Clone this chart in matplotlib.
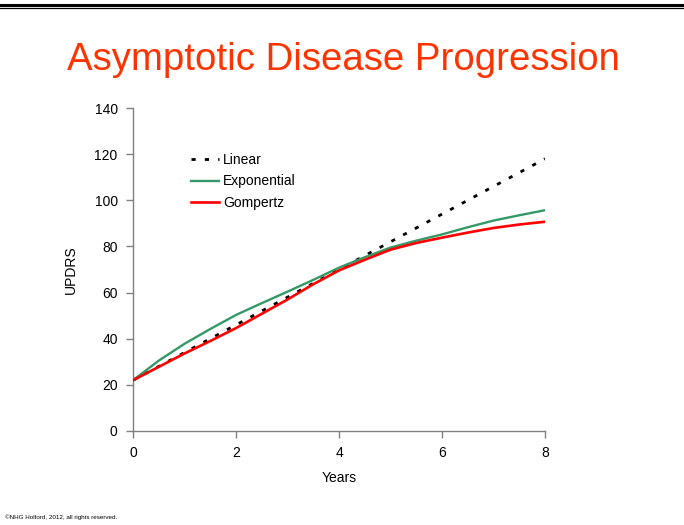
import matplotlib
matplotlib.use("Agg")
import matplotlib.pyplot as plt
from matplotlib.lines import Line2D

plt.rcParams['font.family'] = ['Liberation Sans', 'DejaVu Sans']

# Data
years = [0, 0.5, 1, 1.5, 2, 2.5, 3, 3.5, 4, 4.5, 5, 5.5, 6, 6.5, 7, 7.5, 8]
linear_years = [0, 8]
linear_vals = [22, 118]
exponential_vals = [22, 30.5, 37.8, 44.2, 50.3, 55.4, 60.4, 65.5, 70.8, 75.3,
                    79.5, 82.5, 85.2, 88.3, 91.2, 93.5, 95.7]
gompertz_vals = [22, 27.8, 33.6, 39.0, 44.6, 50.8, 57.0, 63.6, 69.6, 74.2,
                 78.6, 81.5, 83.8, 86.0, 88.0, 89.5, 90.7]
xticks = [0, 2, 4, 6, 8]
yticks = [0, 20, 40, 60, 80, 100, 120, 140]

fig = plt.figure(figsize=(6.84, 5.25), dpi=100)
ax = fig.add_axes([133/684, 1-431/525, (545-133)/684, (431-108)/525])

ax.plot(linear_years, linear_vals, color='black', lw=2.0,
        linestyle=(0, (1.5, 3.3)), label='Linear', zorder=2)
ax.plot(years, exponential_vals, color='#339966', lw=1.7, label='Exponential', zorder=3)
ax.plot(years, gompertz_vals, color='#FF0000', lw=1.9, label='Gompertz', zorder=4)

ax.set_xlim(0, 8)
ax.set_ylim(0, 140)
ax.set_xticks(xticks)
ax.set_yticks(yticks)
for s in ['top', 'right']:
    ax.spines[s].set_visible(False)
for s in ['left', 'bottom']:
    ax.spines[s].set_color('#808080')
    ax.spines[s].set_linewidth(1.0)
ax.tick_params(direction='out', length=5, color='#808080', width=1.0,
               labelsize=10, labelcolor='black', pad=6)
ax.set_xlabel('Years', fontsize=10, labelpad=8)
ax.set_ylabel('UPDRS', fontsize=10, labelpad=12)

ax.legend(loc='upper left', bbox_to_anchor=(0.11, 0.9), frameon=False,
          fontsize=10, handlelength=2.0, handletextpad=0.3, labelspacing=0.55)

fig.text(343/684, 1-60/525, 'Asymptotic Disease Progression', color='#FF3300',
         fontsize=27.6, ha='center', va='center')
fig.text(5/684, 1-517/525, '\u00a9NHG Holford, 2012, all rights reserved.',
         fontsize=4.5, ha='left', va='center', color='black')

fig.add_artist(Line2D([0, 1], [1-4.5/525, 1-4.5/525], color='black', lw=2.2))
fig.add_artist(Line2D([0, 1], [1-7.8/525, 1-7.8/525], color='black', lw=0.9))

fig.savefig('out.png', dpi=100)
